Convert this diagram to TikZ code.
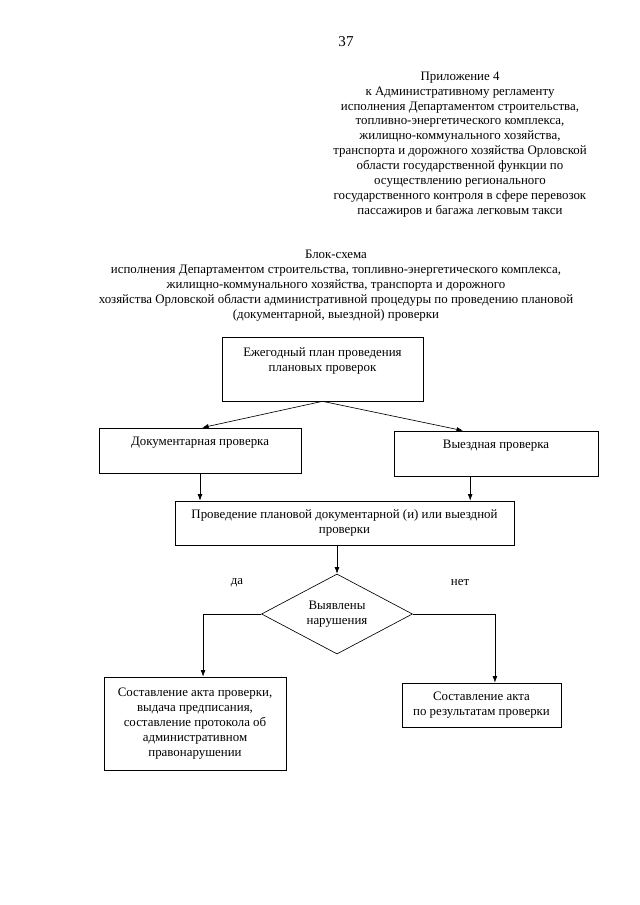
\documentclass[tikz,border=0pt]{standalone}
\usepackage{fontspec}
\setmainfont{Liberation Serif}
\usetikzlibrary{shapes.geometric,arrows.meta}

\begin{document}
\begin{tikzpicture}
[x=0.93pt, y=-0.93pt,
every node/.style = {align=center, inner sep=0pt,
	font=\fontsize{12}{13.9}\selectfont,
},
block/.style = {shape=rectangle, draw, line width=.6pt},
decision/.style = {shape=diamond, draw, line width=.6pt, aspect=1.9,
	minimum width=140.4pt, minimum height=74.4pt},
flow/.style = {draw, line width=.6pt, -{Latex[length=6pt,width=4.4pt]}},
]
\useasboundingbox (0,0) rectangle (640,905);
% headings
\node (page) at (346,42) {\fontsize{14}{16}\selectfont 37};
\node (annex) at (460,144.5) {Приложение 4\\
	к Административному регламенту\\
	исполнения Департаментом строительства,\\
	топливно-энергетического комплекса,\\
	жилищно-коммунального хозяйства,\\
	транспорта и дорожного хозяйства Орловской\\
	области государственной функции по\\
	осуществлению регионального\\
	государственного контроля в сфере перевозок\\
	пассажиров и багажа легковым такси};
\node (title) at (336,286) {Блок-схема\\
	исполнения Департаментом строительства, топливно-энергетического комплекса,\\
	жилищно-коммунального хозяйства, транспорта и дорожного\\
	хозяйства Орловской области административной процедуры по проведению плановой\\
	(документарной, выездной) проверки};

% blocks
\node[block, minimum width=186.9pt, minimum height=59.5pt] (plan) at (322.5,369)
	{Ежегодный план проведения\\плановых проверок\\\strut};
\node[block, minimum width=187.9pt, minimum height=41.9pt] (doc) at (200,450.5)
	{Документарная проверка\\\strut};
\node[block, minimum width=189.7pt, minimum height=41.9pt] (vyezd) at (496,453.5)
	{Выездная проверка\\\strut};
\node[block, minimum width=315.3pt, minimum height=40.9pt] (prov) at (344.5,523)
	{Проведение плановой документарной (и) или выездной\\проверки};
\node[decision] (found) at (337,614) {Выявлены\\нарушения};
\node (yes) at (237,582.5) {да};
\node (no) at (460,582.5) {нет};
\node[block, minimum width=169.3pt, minimum height=86.5pt] (akt) at (195,723.5)
	{Составление акта проверки,\\выдача предписания,\\составление протокола об\\административном\\правонарушении};
\node[block, minimum width=147.9pt, minimum height=40.9pt] (result) at (481.5,705)
	{Составление акта\\по результатам проверки};

% arrows
\draw[flow] (plan.south) -- ([xshift=2pt]doc.north);
\draw[flow] (plan.south) -- ([xshift=-30.7pt]vyezd.north);
\draw[flow] (doc.south) -- (doc.south |- prov.north);
\draw[flow] ([xshift=-24pt]vyezd.south) coordinate (vs) -- (vs |- prov.north);
\draw[flow] (prov.south -| found.north) -- (found.north);
\draw[flow] (found.west) -| ([xshift=7.5pt]akt.north);
\draw[flow] (found.east) -| ([xshift=12.5pt]result.north);
\end{tikzpicture}
\end{document}
